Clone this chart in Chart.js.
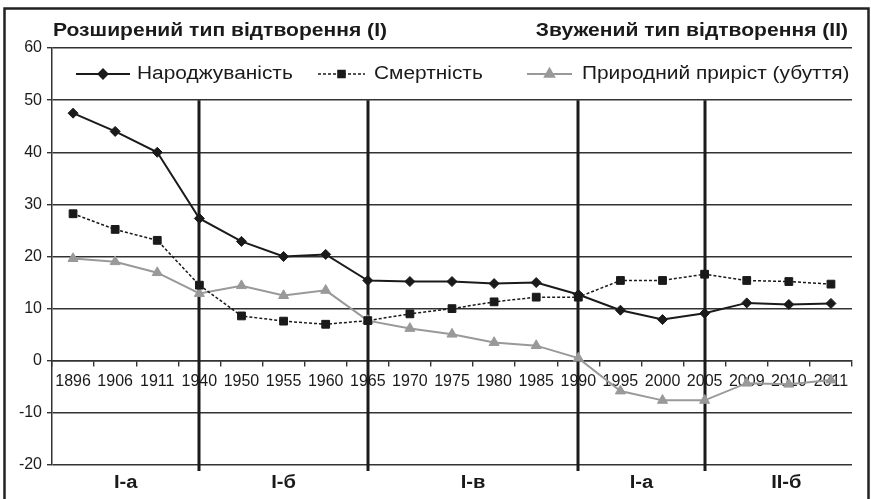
<!DOCTYPE html>
<html lang="uk">
<head>
<meta charset="utf-8">
<script src="https://cdn.jsdelivr.net/npm/chart.js@4.4.0/dist/chart.umd.min.js"></script>
<style>
  html, body { margin: 0; padding: 0; background: #fff; }
  #wrap { width: 871px; height: 499px; }
</style>
</head>
<body>
<div id="wrap"><canvas id="chart" width="871" height="499"></canvas></div>
<script>
// дані графіка
const years = ['1896', '1906', '1911', '1940', '1950', '1955', '1960', '1965', '1970', '1975',
  '1980', '1985', '1990', '1995', '2000', '2005', '2009', '2010', '2011'];
const birthRate = [47.5, 44.0, 40.0, 27.3, 22.9, 20.0, 20.4, 15.4, 15.2, 15.2,
  14.8, 15.0, 12.7, 9.7, 7.9, 9.1, 11.1, 10.8, 11.0];
const deathRate = [28.2, 25.2, 23.1, 14.5, 8.6, 7.6, 7.0, 7.7, 9.0, 10.0,
  11.3, 12.2, 12.2, 15.4, 15.4, 16.6, 15.4, 15.2, 14.7];
const naturalGrowth = [19.6, 19.0, 16.9, 12.9, 14.4, 12.5, 13.5, 7.7, 6.2, 5.1,
  3.5, 2.9, 0.5, -5.8, -7.6, -7.6, -4.3, -4.5, -3.7];
const seriesNames = ['Народжуваність', 'Смертність', 'Природний приріст (убуття)'];
const yTicks = [-20, -10, 0, 10, 20, 30, 40, 50, 60];
const periodBreaks = ['1940', '1965', '1990', '2005'];
const periodLabels = ['І-а', 'І-б', 'І-в', 'І-а', 'ІІ-б'];
const titleLeft = 'Розширений тип відтворення (І)';
const titleRight = 'Звужений тип відтворення (ІІ)';

const FONT = "'Liberation Sans', Arial, sans-serif";
const INK = '#1a1a1a';
const GRID = '#333';
const GREY = '#999';

// текст трохи ширший, як у оригіналі
function wideText(ctx, text, x, y, sx, align) {
  ctx.save();
  ctx.translate(x, y);
  ctx.scale(sx, 1);
  ctx.textAlign = align;
  ctx.fillText(text, 0, 0);
  ctx.restore();
}

// рамка, заголовки, вертикальні межі періодів, легенда
const decorPlugin = {
  id: 'decor',
  beforeDatasetsDraw(chart) {
    const ctx = chart.ctx;
    const x = chart.scales.x, y = chart.scales.y;
    ctx.save();
    ctx.strokeStyle = INK;
    ctx.lineWidth = 3;
    periodBreaks.forEach(yr => {
      const px = Math.round(x.getPixelForValue(years.indexOf(yr)));
      ctx.beginPath();
      ctx.moveTo(px, y.getPixelForValue(50));
      ctx.lineTo(px, chart.chartArea.bottom + 6);
      ctx.stroke();
    });
    ctx.restore();
  },
  afterDraw(chart) {
    const ctx = chart.ctx;
    const area = chart.chartArea;
    const x = chart.scales.x;
    ctx.save();

    // рамка
    ctx.strokeStyle = '#222';
    ctx.lineWidth = 2.5;
    ctx.strokeRect(4.5, 8.5, 864, 500);

    // заголовки
    ctx.fillStyle = INK;
    ctx.font = 'bold 18px ' + FONT;
    ctx.textBaseline = 'middle';
    wideText(ctx, titleLeft, area.left + 1, 31, 1.17, 'left');
    wideText(ctx, titleRight, area.right - 4, 31, 1.17, 'right');

    // підписи періодів
    const bounds = [area.left]
      .concat(periodBreaks.map(yr => x.getPixelForValue(years.indexOf(yr))))
      .concat([chart.width - 3]);
    periodLabels.forEach((lab, i) => {
      wideText(ctx, lab, (bounds[i] + bounds[i + 1]) / 2, 483, 1.12, 'center');
    });

    // легенда
    const ly = 74;
    const slots = [[76, 130, 137], [318, 365, 374], [527, 572, 582]];
    ctx.font = '18px ' + FONT;
    chart.data.datasets.forEach((ds, i) => {
      const [x0, x1, tx] = slots[i];
      ctx.strokeStyle = ds.borderColor;
      ctx.lineWidth = ds.borderWidth;
      ctx.setLineDash(ds.borderDash || []);
      ctx.beginPath();
      ctx.moveTo(x0, ly);
      ctx.lineTo(x1, ly);
      ctx.stroke();
      ctx.setLineDash([]);
      ctx.fillStyle = ds.backgroundColor;
      ctx.strokeStyle = ds.backgroundColor;
      Chart.helpers.drawPoint(ctx, {
        pointStyle: ds.pointStyle, radius: ds.pointRadius - 0.5, rotation: 0, borderWidth: 1
      }, (x0 + x1) / 2, ly);
      ctx.fillStyle = INK;
      wideText(ctx, ds.label, tx, ly, 1.16, 'left');
    });
    ctx.restore();
  }
};

new Chart(document.getElementById('chart'), {
  type: 'line',
  data: {
    labels: years,
    datasets: [
      {
        label: seriesNames[0], data: birthRate,
        borderColor: INK, backgroundColor: INK, borderWidth: 2,
        pointStyle: 'rectRot', pointRadius: 5, pointBorderWidth: 1
      },
      {
        label: seriesNames[1], data: deathRate,
        borderColor: INK, backgroundColor: INK, borderWidth: 1.5, borderDash: [3, 2],
        pointStyle: 'rect', pointRadius: 5.5, pointBorderWidth: 1
      },
      {
        label: seriesNames[2], data: naturalGrowth,
        borderColor: GREY, backgroundColor: GREY, borderWidth: 2,
        pointStyle: 'triangle', pointRadius: 5.8, pointBorderWidth: 1
      }
    ]
  },
  options: {
    responsive: false,
    animation: false,
    devicePixelRatio: 1,
    layout: { padding: { top: 48, bottom: 34, left: 0, right: 19 } },
    plugins: { legend: { display: false }, tooltip: { enabled: false } },
    elements: { line: { tension: 0 } },
    scales: {
      x: {
        type: 'category',
        offset: true,
        position: { y: 0 },
        ticks: { color: INK, font: { family: FONT, size: 16 }, padding: 6, maxRotation: 0, autoSkip: false },
        grid: { drawOnChartArea: false, drawTicks: true, tickLength: 5, offset: true, color: GRID, lineWidth: 1.4 },
        border: { color: GRID, width: 1.5 },
        afterFit(s) { s.paddingLeft = 0; s.paddingRight = 0; }
      },
      y: {
        min: -20, max: 60,
        afterBuildTicks(s) { s.ticks = yTicks.map(v => ({ value: v })); },
        ticks: { color: INK, font: { family: FONT, size: 16 }, padding: 5 },
        grid: { color: GRID, lineWidth: 1.4, tickLength: 5 },
        border: { color: GRID, width: 1.5 },
        afterFit(s) { s.width = 52; s.paddingTop = 0; s.paddingBottom = 0; }
      }
    }
  },
  plugins: [decorPlugin]
});
</script>
</body>
</html>
